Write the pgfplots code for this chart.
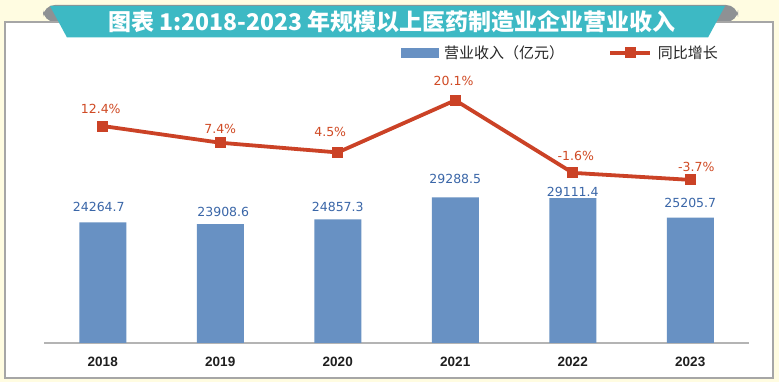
\documentclass[border=0pt]{standalone}
\usepackage{fontspec}
\usepackage{pgfplots}
\pgfplotsset{compat=1.18}
\usepackage{pgfplotstable}
\setmainfont{DejaVu Sans}
\newfontfamily\cjk{Noto Sans CJK SC}
\newfontfamily\tickf{Liberation Sans}
\definecolor{bgc}{HTML}{FFFCE1}
\definecolor{tealc}{HTML}{3DB9C4}
\definecolor{grayc}{HTML}{8E9194}
\definecolor{borderc}{HTML}{A6A6A6}
\definecolor{barc}{HTML}{6891C3}
\definecolor{barlab}{HTML}{3A66A8}
\definecolor{linec}{HTML}{CB4226}
\definecolor{linelab}{HTML}{D04A24}
\definecolor{axisc}{HTML}{B4B4B4}

\pgfplotsset{
  linelegend/.style={legend image code/.code={\draw[mark repeat=2,mark phase=2,##1] plot coordinates {(0pt,0pt) (20pt,0pt) (40pt,0pt)};}},
  barlegend/.style={legend image code/.code={\fill[barc] (0pt,-4.7pt) rectangle (37pt,4.7pt);}},
}

\pgfplotstableread{
x y dx dy
0 24264.7 -4 15
1 23908.6 3 12
2 24857.3 0 12.3
3 29288.5 0 18
4 29111.4 0 6
5 25205.7 0 15
}\revenue

\pgfplotstableread{
x g dx dy
0 12.4 -2 17.5
1 7.4 0 14
2 4.5 -7.5 20
3 20.1 -1.7 19
4 -1.6 3 17
5 -3.7 6 12.7
}\growth

\begin{document}
\begin{tikzpicture}[x=1pt,y=1pt]
% background
\fill[bgc] (0,0) rectangle (779,382);
\useasboundingbox (0,0) rectangle (779,382);
% gray rounded shape behind the banner
\fill[grayc, rounded corners=12pt] (43,360) rectangle (738,377);
% white panel
\filldraw[fill=white, draw=borderc, line width=1.5pt] (5,4) rectangle (773,360);
% teal banner
\fill[tealc] (50,376) -- (725,376) -- (708,344.5) -- (67,344.5) -- cycle;
\node[text=white, font=\cjk\bfseries\fontsize{23}{25}\selectfont, anchor=center] at (392,360.3) {图表 1:2018-2023 年规模以上医药制造业企业营业收入};

% bars
\begin{axis}[
  at={(44pt,39pt)}, anchor=south west,
  scale only axis, width=705pt, height=263pt,
  xmin=-0.5, xmax=5.5, ymin=0, ymax=52860,
  axis x line*=bottom, axis y line=none,
  x axis line style={draw=axisc, line width=1.5pt, -},
  xtick=data, xticklabels={2018,2019,2020,2021,2022,2023},
  major tick length=0pt,
  xticklabel style={anchor=center, yshift=-18.7pt, font=\tickf\bfseries\fontsize{13.5}{14}\selectfont, text=black!88},
  ybar, bar width=47pt,
  clip=false,
]
\addplot[fill=barc, draw=none,
  point meta=y,
  visualization depends on={\thisrow{dx} \as \labdx},
  visualization depends on={\thisrow{dy} \as \labdy},
  nodes near coords={\pgfmathprintnumber[fixed,precision=1,fixed zerofill,1000 sep={},assume math mode=true]{\pgfplotspointmeta}},
  every node near coord/.append style={anchor=center, xshift=\labdx, yshift=\labdy, font=\fontsize{12.5}{14}\selectfont, text=barlab, inner sep=0pt},
] table[x=x, y=y] {\revenue};
\end{axis}

% growth line
\begin{axis}[
  at={(44pt,39pt)}, anchor=south west,
  scale only axis, width=705pt, height=263pt,
  xmin=-0.5, xmax=5.5, ymin=-52.47, ymax=26.16,
  hide axis,
  clip=false,
  legend columns=2,
  legend style={at={(0.506,1.1027)}, anchor=west, draw=none, fill=none, inner sep=0pt, outer sep=0pt,
    font=\cjk\fontsize{15}{16}\selectfont, text=black!85,
    nodes={inner sep=0pt},
    /tikz/every odd column/.append style={column sep=6pt},
    /tikz/every even column/.append style={column sep=44pt}},
  legend cell align=left,
]
\addlegendimage{barlegend}
\addlegendentry{营业收入（亿元）}
\addplot[color=linec, line width=3.8pt, mark=square*, mark size=5pt,
  mark options={fill=linec, draw=none, line width=0pt},
  linelegend,
  point meta=y,
  visualization depends on={\thisrow{dx} \as \labdx},
  visualization depends on={\thisrow{dy} \as \labdy},
  nodes near coords={\pgfmathprintnumber[fixed,precision=1,fixed zerofill,assume math mode=true]{\pgfplotspointmeta}\%},
  every node near coord/.append style={anchor=center, xshift=\labdx, yshift=\labdy, font=\fontsize{12.5}{14}\selectfont, text=linelab, inner sep=0pt},
] table[x=x, y=g] {\growth};
\addlegendentry{同比增长}
\end{axis}
\end{tikzpicture}
\end{document}
